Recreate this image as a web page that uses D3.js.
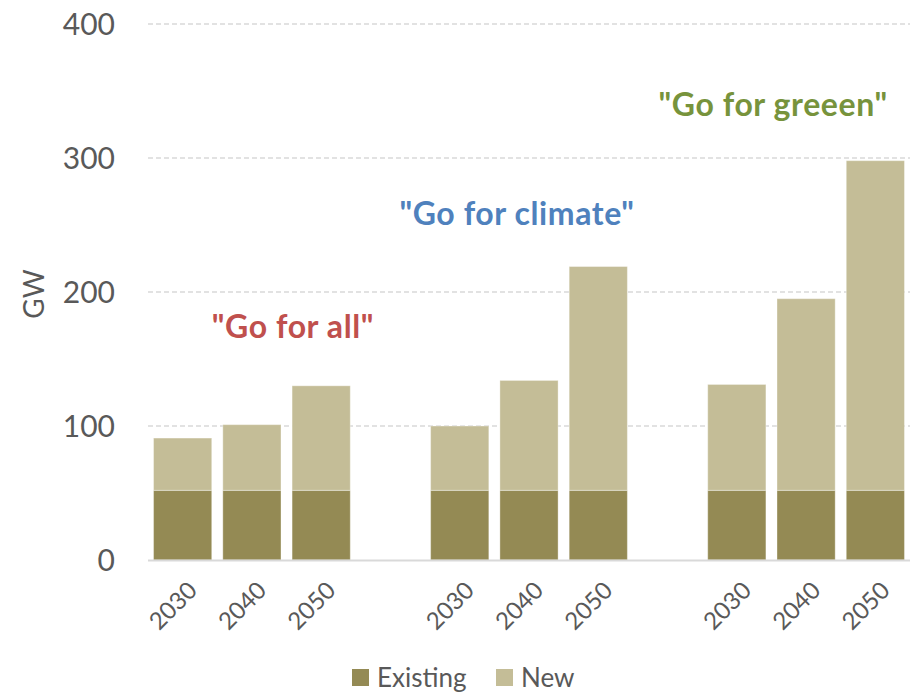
<!DOCTYPE html>
<html><head><meta charset="utf-8">
<script src="https://cdn.jsdelivr.net/npm/d3@7"></script>
<style>body{margin:0;background:#fff}svg{display:block}</style>
</head><body>
<svg id="c" width="912" height="692"></svg>
<script>
const scenarios = ['"Go for all"', '"Go for climate"', '"Go for greeen"'];
const scenarioColors = ["#C0504D", "#4F81BD", "#77933C"];
const years = ["2030", "2040", "2050"];
const existing = [[52, 52, 52], [52, 52, 52], [52, 52, 52]];
const totals = [[91, 101, 130], [100, 134, 219], [131, 195, 298]];
const yTicks = [0, 100, 200, 300, 400];
const seriesNames = ["Existing", "New"];
const seriesColors = ["#948A54", "#C4BD97"];

(function () {
const svg = d3.select("#c");
const mLeft = 148, mRight = 910, mTop = 24, mBottom = 560;
const font = "Lato, 'Open Sans', sans-serif";

// slots: 3 bars per group with one blank slot between groups
const slots = [];
scenarios.forEach((s, gi) => {
  years.forEach((yv, yi) => slots.push(gi + "-" + yi));
  if (gi < scenarios.length - 1) slots.push("gap" + gi);
});
const x = d3.scaleBand().domain(slots).range([mLeft, mRight]).paddingInner(0.16).paddingOuter(0.08);
const y = d3.scaleLinear().domain([0, 400]).range([mBottom, mTop]);

// gridlines
svg.append("g").selectAll("line").data(yTicks.filter(t => t > 0)).join("line")
  .attr("x1", mLeft).attr("x2", mRight)
  .attr("y1", d => y(d)).attr("y2", d => y(d))
  .attr("stroke", "#D9D9D9").attr("stroke-width", 1.3).attr("stroke-dasharray", "5,3");

// y tick labels
svg.append("g").selectAll("text").data(yTicks).join("text")
  .attr("x", 115).attr("y", d => y(d)).attr("dy", "0.36em")
  .attr("text-anchor", "end").attr("fill", "#595959")
  .style("font-family", font).style("font-size", "30px").text(d => d);

// y title
svg.append("text").attr("transform", `translate(44,${(y(0)+y(400))/2+2}) rotate(-90)`)
  .attr("text-anchor", "middle").attr("fill", "#595959")
  .style("font-family", font).style("font-size", "28px").text("GW");

// bars
const barData = [];
scenarios.forEach((s, gi) => years.forEach((yr, yi) => {
  const key = gi + "-" + yi;
  barData.push({key, s: 0, y0: 0, y1: existing[gi][yi]});
  barData.push({key, s: 1, y0: existing[gi][yi], y1: totals[gi][yi]});
}));
svg.append("g").selectAll("rect").data(barData).join("rect")
  .attr("x", d => x(d.key)).attr("width", x.bandwidth())
  .attr("y", d => y(d.y1)).attr("height", d => y(d.y0) - y(d.y1))
  .attr("fill", d => seriesColors[d.s])
  .attr("stroke", "#ffffff").attr("stroke-opacity", 0.35).attr("stroke-width", 1);

// baseline
svg.append("line").attr("x1", mLeft).attr("x2", mRight).attr("y1", y(0)+0.5).attr("y2", y(0)+0.5)
  .attr("stroke", "#D9D9D9").attr("stroke-width", 2);

// x tick labels
svg.append("g").selectAll("text").data(scenarios.flatMap((s, gi) => years.map((yr, yi) => ({key: gi + "-" + yi, yr}))))
  .join("text")
  .attr("transform", d => `translate(${x(d.key) + x.bandwidth()/2 + 10},${y(0) + 26}) rotate(-45)`)
  .attr("text-anchor", "end").attr("dy", "0.35em").attr("fill", "#595959")
  .style("font-family", font).style("font-size", "24px").text(d => d.yr);

// scenario labels (offset from group centre, layout only)
const labelDx = [41, -12, -33];
const labelDy = [48, 42, 45];
svg.append("g").selectAll("text").data(scenarios).join("text")
  .attr("x", (d, i) => (x(i + "-0") + x(i + "-2") + x.bandwidth()) / 2 + labelDx[i])
  .attr("y", (d, i) => y(totals[i][2]) - labelDy[i])
  .attr("text-anchor", "middle").attr("fill", (d, i) => scenarioColors[i])
  .style("font-family", font).style("font-size", "32px").style("font-weight", "bold")
  .style("letter-spacing", "0.6px").text(d => d);

// legend
const leg = svg.append("g").attr("transform", "translate(352,669)");
const items = leg.selectAll("g").data(seriesNames).join("g")
  .attr("transform", (d, i) => `translate(${[0, 144][i]},0)`);
items.append("rect").attr("width", 17).attr("height", 17).attr("fill", (d, i) => seriesColors[i]);
items.append("text").attr("x", 25).attr("y", 9).attr("dy", "0.36em").attr("fill", "#595959")
  .style("font-family", font).style("font-size", "26px").text(d => d);
})();
</script>
</body></html>
